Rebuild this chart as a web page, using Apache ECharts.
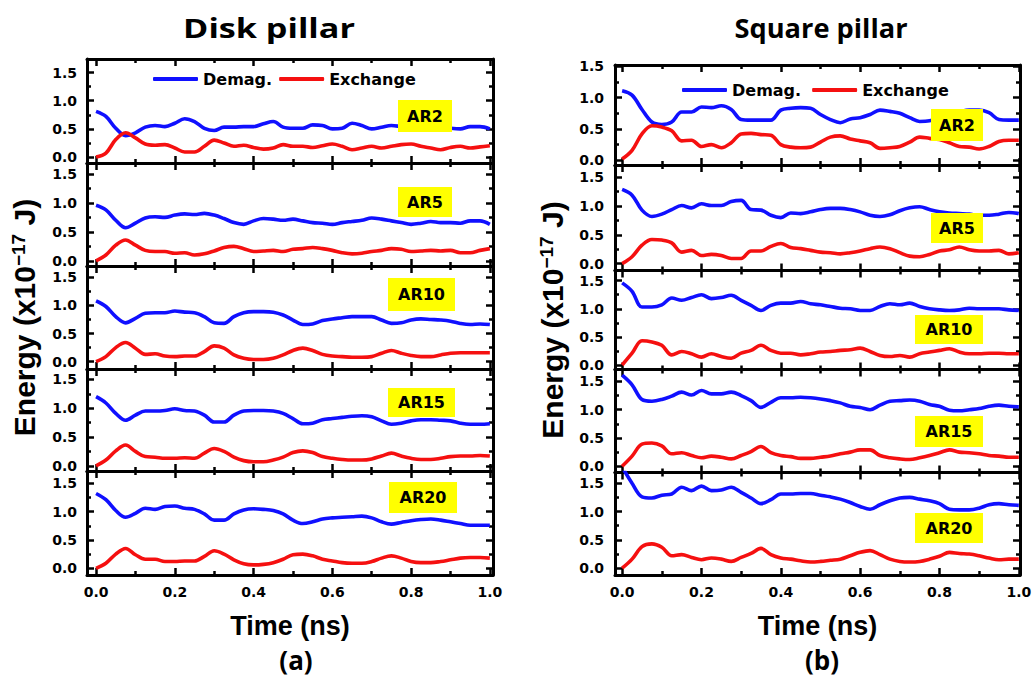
<!DOCTYPE html>
<html>
<head>
<meta charset="utf-8">
<script src="https://cdn.jsdelivr.net/npm/echarts@6/dist/echarts.min.js"></script>
<style>
html,body{margin:0;padding:0;background:#ffffff;}
#chart{width:1034px;height:677px;}
</style>
</head>
<body>
<div id="chart"></div>
<script>
// ---------------- data ----------------
const times = [0,0.025,0.05,0.075,0.1,0.125,0.15,0.175,0.2,0.225,0.25,0.275,0.3,0.325,0.35,0.375,0.4,0.425,0.45,0.475,0.5,0.525,0.55,0.575,0.6,0.625,0.65,0.675,0.7,0.725,0.75,0.775,0.8,0.825,0.85,0.875,0.9,0.925,0.95,0.975,1.0];
const arLabels = ['AR2','AR5','AR10','AR15','AR20'];
const seriesNames = ['Demag.','Exchange'];
const xMajorTicks = [0,0.2,0.4,0.6,0.8,1.0];
const xMinorTicks = [0.1,0.3,0.5,0.7,0.9];
const yMajorTicks = [0,0.5,1.0,1.5];
const yMinorTicks = [0.25,0.75,1.25];

// Disk pillar
const diskDemagAR2  = [0.81,0.72,0.51,0.38,0.43,0.53,0.56,0.54,0.60,0.68,0.63,0.51,0.47,0.53,0.53,0.54,0.54,0.59,0.63,0.53,0.51,0.51,0.57,0.56,0.50,0.51,0.60,0.56,0.50,0.53,0.56,0.54,0.52,0.55,0.52,0.53,0.51,0.50,0.54,0.54,0.50];
const diskExchAR2   = [0.00,0.07,0.31,0.43,0.34,0.23,0.21,0.22,0.16,0.09,0.09,0.19,0.30,0.25,0.19,0.21,0.17,0.14,0.16,0.22,0.19,0.19,0.17,0.20,0.23,0.19,0.13,0.16,0.19,0.16,0.19,0.22,0.23,0.19,0.16,0.13,0.17,0.19,0.16,0.18,0.20];
const diskDemagAR5  = [0.96,0.88,0.70,0.57,0.65,0.74,0.76,0.75,0.79,0.81,0.80,0.82,0.79,0.73,0.66,0.63,0.69,0.73,0.72,0.70,0.72,0.69,0.66,0.65,0.63,0.66,0.68,0.70,0.74,0.72,0.69,0.66,0.63,0.65,0.68,0.66,0.66,0.65,0.69,0.69,0.63];
const diskExchAR5   = [0.00,0.10,0.27,0.36,0.27,0.18,0.16,0.16,0.13,0.14,0.10,0.12,0.17,0.23,0.25,0.21,0.16,0.17,0.18,0.16,0.20,0.21,0.23,0.21,0.18,0.14,0.12,0.13,0.16,0.18,0.21,0.20,0.16,0.17,0.18,0.17,0.18,0.14,0.14,0.18,0.21];
const diskDemagAR10 = [1.08,0.98,0.80,0.69,0.77,0.86,0.87,0.87,0.90,0.88,0.87,0.80,0.69,0.68,0.80,0.87,0.89,0.89,0.88,0.83,0.74,0.66,0.67,0.73,0.76,0.78,0.80,0.80,0.80,0.74,0.68,0.69,0.74,0.76,0.75,0.74,0.72,0.68,0.66,0.67,0.66];
const diskExchAR10  = [0.00,0.09,0.25,0.34,0.24,0.13,0.14,0.10,0.09,0.10,0.10,0.18,0.28,0.24,0.12,0.06,0.04,0.04,0.06,0.12,0.20,0.24,0.20,0.13,0.10,0.09,0.08,0.08,0.09,0.15,0.20,0.15,0.11,0.09,0.09,0.12,0.15,0.16,0.16,0.16,0.16];
const diskDemagAR15 = [1.20,1.09,0.91,0.79,0.88,0.95,0.95,0.96,0.99,0.96,0.95,0.88,0.76,0.76,0.88,0.95,0.96,0.96,0.95,0.91,0.82,0.73,0.74,0.80,0.82,0.84,0.86,0.87,0.85,0.78,0.72,0.74,0.78,0.80,0.80,0.79,0.78,0.74,0.72,0.72,0.73];
const diskExchAR15  = [0.00,0.10,0.26,0.36,0.25,0.16,0.15,0.13,0.13,0.14,0.13,0.22,0.30,0.25,0.15,0.09,0.07,0.07,0.10,0.15,0.23,0.26,0.23,0.16,0.13,0.11,0.10,0.10,0.12,0.17,0.22,0.17,0.13,0.11,0.11,0.13,0.16,0.17,0.17,0.18,0.17];
const diskDemagAR20 = [1.32,1.21,1.02,0.90,0.97,1.06,1.04,1.09,1.10,1.06,1.04,0.96,0.85,0.85,0.96,1.03,1.05,1.04,1.02,0.96,0.85,0.79,0.82,0.87,0.89,0.90,0.91,0.92,0.89,0.82,0.78,0.81,0.84,0.86,0.87,0.85,0.82,0.79,0.76,0.76,0.76];
const diskExchAR20  = [0.00,0.09,0.25,0.35,0.24,0.16,0.16,0.12,0.12,0.13,0.13,0.21,0.31,0.25,0.15,0.08,0.06,0.07,0.10,0.16,0.24,0.25,0.22,0.16,0.13,0.10,0.09,0.09,0.12,0.18,0.22,0.18,0.12,0.10,0.10,0.12,0.15,0.18,0.19,0.19,0.18];

// Square pillar
const sqDemagAR2  = [1.11,1.04,0.81,0.61,0.57,0.61,0.77,0.77,0.85,0.84,0.87,0.81,0.65,0.64,0.64,0.64,0.80,0.83,0.84,0.83,0.73,0.65,0.60,0.66,0.68,0.73,0.80,0.78,0.75,0.68,0.62,0.63,0.68,0.73,0.77,0.80,0.80,0.76,0.65,0.64,0.64];
const sqExchAR2   = [0.02,0.16,0.42,0.55,0.53,0.47,0.31,0.32,0.22,0.25,0.20,0.28,0.42,0.43,0.41,0.40,0.25,0.21,0.20,0.21,0.29,0.37,0.39,0.34,0.31,0.28,0.19,0.20,0.22,0.29,0.37,0.35,0.33,0.28,0.22,0.21,0.18,0.22,0.30,0.32,0.32];
const sqDemagAR5  = [1.29,1.19,0.93,0.82,0.86,0.94,1.01,0.97,1.04,1.01,1.01,1.08,1.10,0.94,0.93,0.84,0.80,0.88,0.87,0.90,0.94,0.96,0.96,0.94,0.90,0.84,0.82,0.85,0.92,0.97,0.99,0.94,0.90,0.88,0.87,0.86,0.84,0.84,0.86,0.89,0.87];
const sqExchAR5   = [0.00,0.12,0.32,0.42,0.41,0.36,0.20,0.23,0.14,0.16,0.14,0.09,0.09,0.22,0.22,0.30,0.35,0.28,0.26,0.23,0.20,0.19,0.17,0.19,0.22,0.26,0.29,0.26,0.19,0.13,0.12,0.16,0.22,0.24,0.29,0.24,0.22,0.22,0.23,0.17,0.19];
const sqDemagAR10 = [1.46,1.31,1.03,1.03,1.07,1.19,1.15,1.20,1.25,1.18,1.20,1.24,1.15,1.06,0.97,1.06,1.10,1.10,1.13,1.09,1.07,1.04,1.01,1.00,0.97,0.97,1.04,1.09,1.07,1.10,1.04,1.00,0.98,0.97,0.98,1.01,1.00,1.00,1.00,0.98,0.97];
const sqExchAR10  = [0.00,0.21,0.43,0.41,0.35,0.18,0.24,0.20,0.14,0.20,0.15,0.12,0.21,0.26,0.35,0.26,0.21,0.21,0.18,0.20,0.23,0.24,0.26,0.27,0.30,0.24,0.17,0.15,0.17,0.14,0.20,0.23,0.26,0.29,0.23,0.20,0.20,0.21,0.21,0.20,0.20];
const sqDemagAR15 = [1.61,1.44,1.18,1.15,1.18,1.24,1.31,1.26,1.34,1.28,1.28,1.31,1.25,1.16,1.04,1.13,1.21,1.21,1.22,1.21,1.19,1.16,1.12,1.06,1.04,1.00,1.08,1.15,1.16,1.17,1.15,1.09,1.06,0.99,0.98,1.00,1.02,1.06,1.08,1.06,1.05];
const sqExchAR15  = [0.00,0.18,0.39,0.41,0.36,0.22,0.24,0.19,0.15,0.18,0.16,0.13,0.19,0.26,0.35,0.24,0.19,0.17,0.14,0.14,0.16,0.18,0.22,0.25,0.29,0.29,0.19,0.15,0.13,0.12,0.15,0.19,0.24,0.29,0.25,0.24,0.22,0.19,0.18,0.16,0.16];
const sqDemagAR20 = [1.79,1.50,1.26,1.24,1.29,1.31,1.43,1.37,1.45,1.37,1.38,1.43,1.34,1.24,1.14,1.21,1.31,1.31,1.32,1.32,1.29,1.26,1.22,1.16,1.09,1.04,1.12,1.19,1.24,1.25,1.22,1.19,1.14,1.04,1.03,1.03,1.06,1.12,1.14,1.12,1.11];
const sqExchAR20  = [0.00,0.16,0.38,0.43,0.37,0.22,0.24,0.19,0.15,0.18,0.16,0.12,0.19,0.26,0.35,0.24,0.18,0.16,0.13,0.11,0.12,0.14,0.16,0.22,0.28,0.31,0.24,0.16,0.12,0.11,0.12,0.16,0.21,0.28,0.26,0.25,0.22,0.18,0.15,0.16,0.16];

const panelTitles = ['Disk pillar','Square pillar'];
const panelTags = ['(a)','(b)'];
const yAxisTitle = 'Energy (x10{sup|\u221217} J)';
const xAxisTitle = 'Time (ns)';

const diskDemag = [diskDemagAR2,diskDemagAR5,diskDemagAR10,diskDemagAR15,diskDemagAR20];
const diskExch  = [diskExchAR2,diskExchAR5,diskExchAR10,diskExchAR15,diskExchAR20];
const sqDemag   = [sqDemagAR2,sqDemagAR5,sqDemagAR10,sqDemagAR15,sqDemagAR20];
const sqExch    = [sqExchAR2,sqExchAR5,sqExchAR10,sqExchAR15,sqExchAR20];
const panelSeries = [[diskDemag, diskExch],[sqDemag, sqExch]];

// ---------------- layout (pixels / styles) ----------------
const BLUE = '#1010ff', RED = '#f51010';
const TICK_FONT = 'DejaVu Sans';
const panelLayout = [
  {left:87, width:406, xMin:-0.023, xMax:1.008,
   edges:[59,163,266,369,471,575],
   yRange:[[-0.106,1.74],[-0.09,1.69],[-0.13,1.70],[-0.09,1.68],[-0.118,1.717]],
   labelMargin:10,
   boxes:[[398,100,54,32],[398,187,54,30],[388,278,67,33],[388,388,67,29],[389,482,68,31]],
   legend:{left:153, top:71, gap:7},
   title:{cx:269, cy:28, w:172}, tag:{cx:296, cy:660}},
  {left:615, width:405, xMin:-0.018, xMax:1.003,
   edges:[65,165,270.5,369.5,472.5,575],
   yRange:[[-0.075,1.52],[-0.12,1.715],[-0.08,1.68],[-0.11,1.71],[-0.12,1.69]],
   labelMargin:11,
   boxes:[[931,109,52,32],[931,213,52,30],[915,315,68,29],[915,416,68,31],[915,513,68,30]],
   legend:{left:682, top:82, gap:11},
   title:{cx:821, cy:28, w:173}, tag:{cx:822, cy:660}}
];

function measure(text, font){
  const c = document.createElement('canvas').getContext('2d');
  c.font = font; return c.measureText(text).width;
}

const fmt = v => Number(v).toFixed(1);
const tickLabelStyle = {color:'#000', fontFamily:TICK_FONT, fontWeight:'bold', fontSize:14, lineHeight:13};
function mkX(gi, pos, vals, len, line, label, p, extra){
  return Object.assign({
    type:'value', gridIndex:gi, position:pos, min:p.xMin, max:p.xMax,
    axisLine:{show:line, onZero:false, lineStyle:{color:'#000', width:3}},
    axisTick:{show:true, inside:true, length:len, customValues:vals, lineStyle:{color:'#000', width:2.5}},
    axisLabel:Object.assign({show:label, customValues:vals, formatter:fmt, margin:10}, tickLabelStyle),
    splitLine:{show:false}, minorTick:{show:false}
  }, extra || {});
}
function mkY(gi, pos, vals, len, line, label, r, p, extra){
  return Object.assign({
    type:'value', gridIndex:gi, position:pos, min:r[0], max:r[1],
    axisLine:{show:line, onZero:false, lineStyle:{color:'#000', width:3}},
    axisTick:{show:true, inside:true, length:len, customValues:vals, lineStyle:{color:'#000', width:2.5}},
    axisLabel:Object.assign({show:label, customValues:vals, formatter:fmt, margin:p.labelMargin}, tickLabelStyle),
    splitLine:{show:false}, minorTick:{show:false}
  }, extra || {});
}

const grids=[], xAxes=[], yAxes=[], series=[], graphics=[], legends=[];
panelLayout.forEach((p, pi) => {
  for (let r = 0; r < 5; r++) {
    const gi = grids.length;
    const top = p.edges[r], h = p.edges[r+1] - top;
    grids.push({left:p.left, top:top, width:p.width, height:h, containLabel:false, outerBoundsMode:'none'});
    const last = (r === 4);
    const xb = xAxes.length, yb = yAxes.length;
    xAxes.push(mkX(gi,'bottom',xMajorTicks,7,true,last,p, last ? {
      name:xAxisTitle, nameLocation:'middle', nameGap:37,
      nameTextStyle:{fontFamily:'Liberation Sans', fontWeight:'bold', fontSize:27, color:'#000'}
    } : null));
    xAxes.push(mkX(gi,'bottom',xMinorTicks,4,false,false,p));
    xAxes.push(mkX(gi,'top',xMajorTicks,7,true,false,p));
    xAxes.push(mkX(gi,'top',xMinorTicks,4,false,false,p));
    const yr = p.yRange[r];
    yAxes.push(mkY(gi,'left',yMajorTicks,7,true,true,yr,p, r === 2 ? {
      name:yAxisTitle, nameLocation:'middle', nameRotate:90, nameGap:48,
      nameTextStyle:{fontFamily:'Liberation Sans', fontWeight:'bold', fontSize:30, color:'#000',
        rich:{sup:{fontFamily:'Liberation Sans', fontWeight:'bold', fontSize:19, color:'#000', verticalAlign:'top'}}}
    } : null));
    yAxes.push(mkY(gi,'left',yMinorTicks,4,false,false,yr,p));
    yAxes.push(mkY(gi,'right',yMajorTicks,7,true,false,yr,p));
    yAxes.push(mkY(gi,'right',yMinorTicks,4,false,false,yr,p));

    const [demagSet, exchSet] = panelSeries[pi];
    [[seriesNames[0], demagSet[r], BLUE],[seriesNames[1], exchSet[r], RED]].forEach(([nm, vals, col]) => {
      series.push({
        type:'line', name:nm, xAxisIndex:xb, yAxisIndex:yb,
        data: times.map((t,k) => [t, vals[k]]),
        smooth:0.35, symbol:'none', showSymbol:false, clip:true,
        lineStyle:{color:col, width:3.6}, itemStyle:{color:col},
        emphasis:{disabled:true}, animation:false, z:3
      });
    });

    const b = p.boxes[r];
    graphics.push({type:'rect', z:100, shape:{x:b[0], y:b[1], width:b[2], height:b[3]}, style:{fill:'#ffff00'}});
    graphics.push({type:'text', z:101, x:b[0]+b[2]/2, y:b[1]+b[3]/2,
      style:{text:arLabels[r], font:"bold 16px 'DejaVu Sans'", fill:'#000',
        textAlign:'center', textVerticalAlign:'middle', align:'center', verticalAlign:'middle'}});
  }
  legends.push({
    left:p.legend.left, top:p.legend.top, padding:0, itemGap:p.legend.gap,
    itemWidth:45, itemHeight:4, icon:'roundRect', selectedMode:false,
    data:seriesNames,
    textStyle:{fontFamily:TICK_FONT, fontWeight:'bold', fontSize:16, color:'#000'}
  });
  const tfont = "bold 26px 'Open Sans'";
  const sx = p.title.w / measure(panelTitles[pi], tfont);
  graphics.push({type:'text', z:101, x:p.title.cx, y:p.title.cy, scaleX:sx, scaleY:1,
    style:{text:panelTitles[pi], font:tfont, fill:'#000',
      textAlign:'center', textVerticalAlign:'middle', align:'center', verticalAlign:'middle'}});
  graphics.push({type:'text', z:101, x:p.tag.cx, y:p.tag.cy,
    style:{text:panelTags[pi], font:"bold 26px 'Open Sans'", fill:'#000',
      textAlign:'center', textVerticalAlign:'middle', align:'center', verticalAlign:'middle'}});
});

const chart = echarts.init(document.getElementById('chart'), null, {renderer:'svg', width:1034, height:677});
chart.setOption({
  backgroundColor:'#ffffff',
  animation:false,
  grid:grids, xAxis:xAxes, yAxis:yAxes, series:series,
  legend:legends, graphic:graphics
});
</script>
</body>
</html>
